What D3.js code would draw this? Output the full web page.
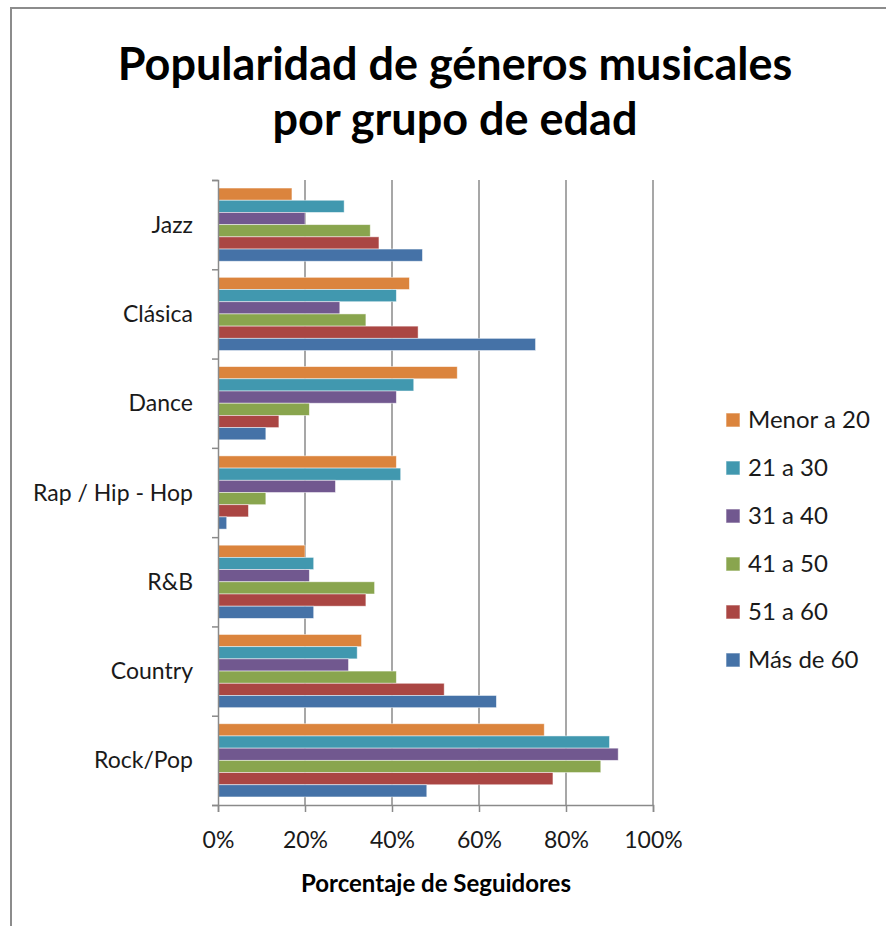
<!DOCTYPE html>
<html>
<head>
<meta charset="utf-8">
<script src="https://cdn.jsdelivr.net/npm/d3@7"></script>
<style>
  body { margin: 0; background: #fff; }
  text { font-family: Lato, "Open Sans", sans-serif; fill: #000; }
</style>
</head>
<body>
<svg width="886" height="926"></svg>
<script>
// Data
var generos = ["Jazz", "Clásica", "Dance", "Rap / Hip - Hop", "R&B", "Country", "Rock/Pop"];
var grupos = ["Menor a 20", "21 a 30", "31 a 40", "41 a 50", "51 a 60", "Más de 60"];
var menor20 = [17, 44, 55, 41, 20, 33, 75];
var de21a30 = [29, 41, 45, 42, 22, 32, 90];
var de31a40 = [20, 28, 41, 27, 21, 30, 92];
var de41a50 = [35, 34, 21, 11, 36, 41, 88];
var de51a60 = [37, 46, 14, 7, 34, 52, 77];
var mas60   = [47, 73, 11, 2, 22, 64, 48];
var xTicks = [0, 20, 40, 60, 80, 100];
var colores = ["#DB843D", "#4198AF", "#71588F", "#89A54E", "#AA4643", "#4572A7"];

var series = [menor20, de21a30, de31a40, de41a50, de51a60, mas60];

var svg = d3.select("svg");

// frame
svg.append("line").attr("x1", 11).attr("y1", 8).attr("x2", 11).attr("y2", 926)
    .attr("stroke", "#8c8c8c").attr("stroke-width", 2);
svg.append("line").attr("x1", 10).attr("y1", 8).attr("x2", 886).attr("y2", 8)
    .attr("stroke", "#8c8c8c").attr("stroke-width", 2);

var mLeft = 218, mRight = 653, mTop = 180, mBottom = 805;

var x = d3.scaleLinear().domain([0, 100]).range([mLeft, mRight]);
var y0 = d3.scaleBand().domain(generos).range([mTop, mBottom]);
var y1 = d3.scaleBand().domain(grupos)
    .range([y0.bandwidth() * 0.09, y0.bandwidth() * 0.91]);
var color = d3.scaleOrdinal().domain(grupos).range(colores);

// gridlines
svg.append("g")
    .selectAll("line")
    .data(xTicks.slice(1))
    .enter()
    .append("line")
    .attr("x1", d => x(d)).attr("x2", d => x(d))
    .attr("y1", mTop).attr("y2", mBottom)
    .attr("stroke", "#8a8a8a").attr("stroke-width", 1.5);

// bars
var rows = [];
generos.forEach(function (g, i) {
    grupos.forEach(function (s, j) {
        rows.push({ genero: g, grupo: s, valor: series[j][i] });
    });
});

svg.append("g")
    .selectAll("rect")
    .data(rows)
    .enter()
    .append("rect")
    .attr("x", x(0))
    .attr("y", d => y0(d.genero) + y1(d.grupo))
    .attr("width", d => x(d.valor) - x(0))
    .attr("height", y1.bandwidth())
    .attr("fill", d => color(d.grupo))
    .attr("stroke", "rgba(255,255,255,0.6)")
    .attr("stroke-width", 0.8);

// y axis
var yAxis = svg.append("g")
    .attr("transform", "translate(" + mLeft + ",0)")
    .call(d3.axisLeft(d3.scalePoint().domain(d3.range(8)).range([mTop, mBottom]))
        .tickSize(6).tickFormat(""));
yAxis.select(".domain").attr("stroke", "#8a8a8a").attr("stroke-width", 1.5);
yAxis.selectAll(".tick line").attr("stroke", "#8a8a8a").attr("stroke-width", 1.5);

svg.append("g")
    .selectAll("text")
    .data(generos)
    .enter()
    .append("text")
    .attr("x", 193)
    .attr("y", d => y0(d) + y0.bandwidth() / 2)
    .attr("dy", "0.35em")
    .attr("text-anchor", "end")
    .style("font-size", "23px")
    .style("fill", "#1a1a1a")
    .text(d => d);

// x axis
var xAxis = svg.append("g")
    .attr("transform", "translate(0," + mBottom + ")")
    .call(d3.axisBottom(x).tickValues(xTicks).tickSize(7).tickPadding(20)
        .tickFormat(d => d + "%"));
xAxis.select(".domain").attr("stroke", "#8a8a8a").attr("stroke-width", 1.5);
xAxis.selectAll(".tick line").attr("stroke", "#8a8a8a").attr("stroke-width", 1.5);
xAxis.selectAll(".tick text")
    .style("font-family", "Lato, sans-serif")
    .style("font-size", "23px")
    .style("fill", "#1a1a1a");

svg.append("text")
    .attr("x", 436).attr("y", 892)
    .attr("text-anchor", "middle")
    .style("font-size", "24px")
    .style("font-weight", "bold")
    .text("Porcentaje de Seguidores");

// title
svg.append("text")
    .attr("x", 455).attr("y", 80)
    .attr("text-anchor", "middle")
    .style("font-size", "45px")
    .style("font-weight", "bold")
    .text("Popularidad de géneros musicales");
svg.append("text")
    .attr("x", 455).attr("y", 135)
    .attr("text-anchor", "middle")
    .style("font-size", "45px")
    .style("font-weight", "bold")
    .text("por grupo de edad");

// legend
var legend = svg.append("g")
    .selectAll("g")
    .data(grupos)
    .enter()
    .append("g")
    .attr("transform", (d, i) => "translate(726," + (420 + i * 48) + ")");
legend.append("rect")
    .attr("x", 0).attr("y", -7)
    .attr("width", 14).attr("height", 14)
    .attr("fill", d => color(d))
    .attr("stroke", "rgba(255,255,255,0.6)");
legend.append("text")
    .attr("x", 22).attr("y", 0)
    .attr("dy", "0.35em")
    .style("font-size", "24px")
    .style("fill", "#1a1a1a")
    .text(d => d);
</script>
</body>
</html>
